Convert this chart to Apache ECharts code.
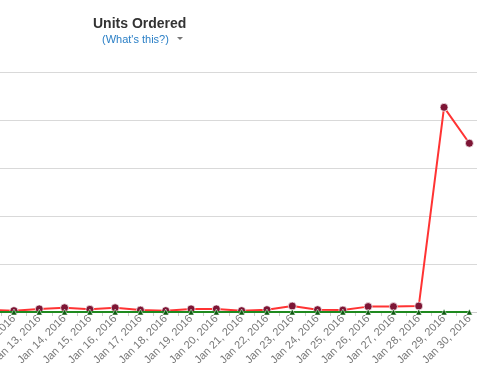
<!DOCTYPE html>
<html>
<head>
<meta charset="utf-8">
<script src="https://cdn.jsdelivr.net/npm/echarts@6/dist/echarts.min.js"></script>
<style>html,body{margin:0;padding:0;background:#fff}#c{width:477px;height:370px}</style>
</head>
<body>
<div id="c"></div>
<script>
const categories = ["Jan 11, 2016","Jan 12, 2016","Jan 13, 2016","Jan 14, 2016","Jan 15, 2016","Jan 16, 2016","Jan 17, 2016","Jan 18, 2016","Jan 19, 2016","Jan 20, 2016","Jan 21, 2016","Jan 22, 2016","Jan 23, 2016","Jan 24, 2016","Jan 25, 2016","Jan 26, 2016","Jan 27, 2016","Jan 28, 2016","Jan 29, 2016","Jan 30, 2016"];
const unitsOrdered = [1, 0.7, 1.6, 2.2, 1.4, 2.2, 1.0, 0.7, 1.6, 1.6, 0.7, 1.2, 3.1, 1.2, 1.0, 2.8, 2.8, 3.1, 106.6, 87.9];
const comparison = [0,0,0,0,0,0,0,0,0,0,0,0,0,0,0,0,0,0,0,0];
const yMin = 0, yMax = 125, yStep = 25;

const chart = echarts.init(document.getElementById('c'), null, {renderer:'canvas'});
chart.setOption({
  animation:false,
  backgroundColor:'#fff',
  title:[
    {text:'Units Ordered', left:88, top:12, textStyle:{fontFamily:'Liberation Sans, Arial, sans-serif', fontSize:14, fontWeight:'bold', color:'#333'}},
    {text:"(What's this?)", left:97, top:29, textStyle:{fontFamily:'Liberation Sans, Arial, sans-serif', fontSize:11, fontWeight:'normal', color:'#2a7fc6'}}
  ],
  graphic:[{type:'polygon', shape:{points:[[177,37],[183,37],[180,40]]}, style:{fill:'#777'}}],
  grid:{left:-24, right:-5, top:72, bottom:58, containLabel:false, outerBoundsMode:'none'},
  xAxis:{
    type:'category', data:categories, boundaryGap:true,
    axisLine:{show:true, lineStyle:{color:'#ccc'}},
    axisTick:{show:true, length:4, lineStyle:{color:'#ccc'}},
    axisLabel:{rotate:45, margin:5, fontSize:11, color:'#777', fontFamily:'Liberation Sans, Arial, sans-serif', interval:0}
  },
  yAxis:{
    type:'value', min:yMin, max:yMax, interval:yStep,
    axisLabel:{show:false}, axisLine:{show:false}, axisTick:{show:false},
    splitLine:{lineStyle:{color:'#d9d9d9', width:1}}
  },
  series:[
    {type:'line', data:unitsOrdered, symbol:'circle', symbolSize:8,
     lineStyle:{color:'#ff3333', width:2},
     itemStyle:{color:'#7d1535', borderColor:'rgba(255,255,255,0.7)', borderWidth:1}, z:2},
    {type:'line', data:comparison, symbol:'triangle', symbolSize:6,
     lineStyle:{color:'#1f8a1f', width:2},
     itemStyle:{color:'#0f5a12', borderColor:'#fff', borderWidth:0.5}, z:3}
  ]
});
</script>
</body>
</html>
